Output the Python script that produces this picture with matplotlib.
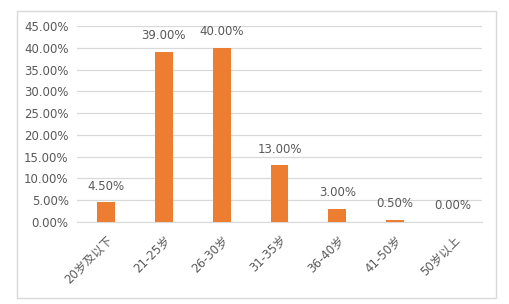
import matplotlib
matplotlib.use('Agg')
import matplotlib.pyplot as plt
from matplotlib.patches import Rectangle
from matplotlib.ticker import FuncFormatter

plt.rcParams['font.family'] = ['DejaVu Sans', 'Noto Sans CJK SC']

# data
categories = ['20岁及以下', '21-25岁', '26-30岁', '31-35岁', '36-40岁', '41-50岁', '50岁以上']
values = [0.045, 0.39, 0.40, 0.13, 0.03, 0.005, 0.0]
y_ticks = [0.0, 0.05, 0.10, 0.15, 0.20, 0.25, 0.30, 0.35, 0.40, 0.45]

bar_color = '#ED7D31'
text_color = '#595959'
grid_color = '#D9D9D9'

fig = plt.figure(figsize=(5.10, 3.04), dpi=100)
fig.patch.set_facecolor('white')

# chart border
fig.add_artist(Rectangle((17 / 510, 1 - 298 / 304), 479 / 510, 287 / 304,
                         transform=fig.transFigure, fill=False,
                         edgecolor='#D9D9D9', linewidth=1))

ax = fig.add_axes([77 / 510, 1 - 222 / 304, 405 / 510, 196 / 304])
x = range(len(categories))
ax.bar(x, values, width=0.31, color=bar_color, zorder=3)

ax.set_xlim(-0.5, len(categories) - 0.5)
ax.set_ylim(0, 0.45)
ax.set_yticks(y_ticks)
ax.yaxis.set_major_formatter(FuncFormatter(lambda v, p: f'{v * 100:.2f}%'))
ax.grid(axis='y', color=grid_color, linewidth=0.9, zorder=0)

for s in ['top', 'right', 'left']:
    ax.spines[s].set_visible(False)
ax.spines['bottom'].set_color(grid_color)
ax.tick_params(axis='both', length=0, colors=text_color, labelsize=8.5)
ax.tick_params(axis='y', pad=6)

ax.set_xticks(list(x))
ax.set_xticklabels(categories, rotation=45, ha='right', rotation_mode='anchor')
ax.tick_params(axis='x', pad=8)

for i, v in zip(x, values):
    ax.annotate(f'{v * 100:.2f}%', (i, v), xytext=(0, 7), textcoords='offset points',
                ha='center', va='bottom', fontsize=8.5, color=text_color)

fig.savefig('out.png', dpi=100)
